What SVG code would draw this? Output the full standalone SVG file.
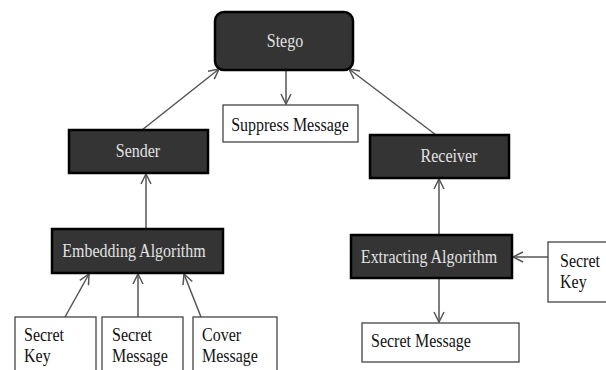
<svg xmlns="http://www.w3.org/2000/svg" width="606" height="370" viewBox="0 0 606 370">
<style>
.dark{fill:#343434;stroke:#000;stroke-width:2.5}
.light{fill:#fff;stroke:#444;stroke-width:1.3}
.tl{font-family:"Liberation Serif",serif;font-size:16px;fill:#e2e2e2;text-anchor:middle}
.td{font-family:"Liberation Serif",serif;font-size:16px;fill:#111}
.c{stroke:#555;stroke-width:1.5;fill:none;marker-end:url(#ah)}
</style>
<defs>
<marker id="ah" viewBox="0 0 12 12" refX="11" refY="6" markerWidth="12" markerHeight="12" markerUnits="userSpaceOnUse" orient="auto">
<path d="M1,1 L11,6 L1,11" fill="none" stroke="#555" stroke-width="1.5"/>
</marker>
</defs>
<rect width="606" height="370" fill="#fff"/>
<g id="connectors">
<line class="c" x1="286" y1="70" x2="286" y2="104"/>
<line class="c" x1="142" y1="130" x2="219" y2="69"/>
<line class="c" x1="436" y1="135" x2="349" y2="69"/>
<line class="c" x1="146" y1="229" x2="146" y2="174"/>
<line class="c" x1="65" y1="317" x2="89" y2="274"/>
<line class="c" x1="138" y1="317" x2="138" y2="274"/>
<line class="c" x1="201" y1="317" x2="184" y2="274"/>
<line class="c" x1="439" y1="235" x2="439" y2="179"/>
<line class="c" x1="548" y1="257" x2="513" y2="257"/>
<line class="c" x1="439" y1="278" x2="439" y2="322"/>
</g>
<g id="stego">
<rect class="dark" x="215" y="12" width="138" height="58" rx="9" stroke-width="3"/>
<text class="tl" transform="translate(285,47) scale(1,1.22)">Stego</text>
</g>
<g id="suppress">
<rect class="light" x="223" y="105" width="135" height="37"/>
<text class="td" text-anchor="middle" font-size="15.3" transform="translate(290,131) scale(1,1.22)">Suppress Message</text>
</g>
<g id="sender">
<rect class="dark" x="69" y="130" width="139" height="43"/>
<text class="tl" transform="translate(138,157) scale(1,1.22)">Sender</text>
</g>
<g id="receiver">
<rect class="dark" x="370" y="135" width="139" height="43"/>
<text class="tl" transform="translate(449,162) scale(1,1.22)">Receiver</text>
</g>
<g id="embedding">
<rect class="dark" x="52" y="229" width="171" height="44"/>
<text class="tl" transform="translate(134,257) scale(1,1.22)">Embedding Algorithm</text>
</g>
<g id="extracting">
<rect class="dark" x="351" y="235" width="161" height="43"/>
<text class="tl" transform="translate(429,263) scale(1,1.22)">Extracting Algorithm</text>
</g>
<g id="secret-key-right">
<rect class="light" x="548" y="242" width="64" height="60"/>
<text class="td" transform="translate(560,267) scale(1,1.22)">Secret</text>
<text class="td" transform="translate(560,288) scale(1,1.22)">Key</text>
</g>
<g id="secret-message-out">
<rect class="light" x="362" y="323" width="157" height="39"/>
<text class="td" transform="translate(371,347) scale(1,1.22)">Secret Message</text>
</g>
<g id="secret-key-left">
<rect class="light" x="15" y="317" width="81" height="60"/>
<text class="td" transform="translate(24,341) scale(1,1.22)">Secret</text>
<text class="td" transform="translate(24,362) scale(1,1.22)">Key</text>
</g>
<g id="secret-message-in">
<rect class="light" x="102" y="317" width="81" height="60"/>
<text class="td" transform="translate(112,341) scale(1,1.22)">Secret</text>
<text class="td" transform="translate(112,362) scale(1,1.22)">Message</text>
</g>
<g id="cover-message">
<rect class="light" x="193" y="317" width="84" height="60"/>
<text class="td" transform="translate(202,341) scale(1,1.22)">Cover</text>
<text class="td" transform="translate(202,362) scale(1,1.22)">Message</text>
</g>
</svg>
